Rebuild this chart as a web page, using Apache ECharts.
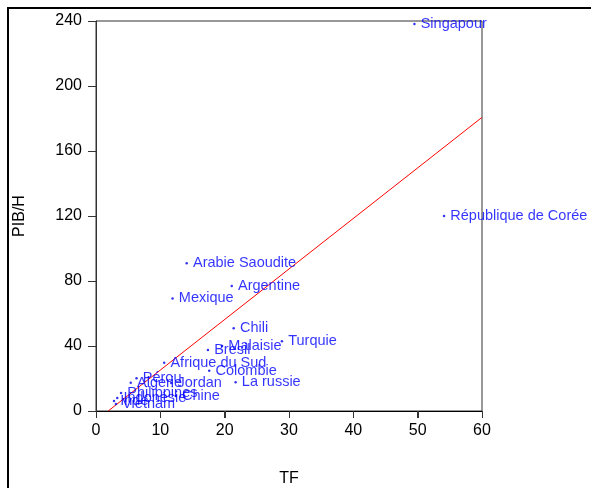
<!DOCTYPE html>
<html>
<head>
<meta charset="utf-8">
<script src="https://cdn.jsdelivr.net/npm/echarts@6/dist/echarts.min.js"></script>
<style>
  html, body { margin: 0; padding: 0; background: #fff; }
  #chart { width: 591px; height: 488px; }
</style>
</head>
<body>
<div id="chart"></div>
<script>
// Countries, openness (TF) and GDP per head (PIB/H)
const countries = [
  'Singapour', 'République de Corée', 'Arabie Saoudite', 'Argentine', 'Mexique',
  'Chili', 'Turquie', 'Malaisie', 'Bresil', 'Afrique du Sud', 'Colombie',
  'La russie', 'Pérou', 'Algerie', 'Jordan', 'Philippines', 'Chine',
  'Indonésie', 'Inde', 'Vietnam'
];
const tfValues = [
  49.5, 54.1, 14.1, 21.1, 11.9,
  21.4, 28.9, 19.6, 17.4, 10.6, 17.6,
  21.7, 6.3, 5.4, 11.7, 3.9, 12.4,
  3.3, 2.8, 3.1
];
const pibValues = [
  238.2, 120.0, 91.0, 76.9, 69.3,
  50.9, 43.0, 40.0, 37.5, 29.7, 24.8,
  17.7, 20.1, 17.4, 17.2, 11.1, 9.2,
  8.0, 6.2, 4.3
];
const xTicks = [0, 10, 20, 30, 40, 50, 60];
const yTicks = [0, 40, 80, 120, 160, 200, 240];

// Fitted line PIB/H = a + b * TF
const fitIntercept = -5.9;
const fitSlope = 3.11;
const fitRange = [1.9, 60];

const points = countries.map((c, i) => [tfValues[i], pibValues[i], c]);
const fitLine = fitRange.map(x => [x, fitIntercept + fitSlope * x]);

const chart = echarts.init(document.getElementById('chart'));
chart.setOption({
  animation: false,
  textStyle: { fontFamily: 'Liberation Sans, Arial, sans-serif' },
  grid: {
    left: 96, right: 109, top: 21, bottom: 77,
    containLabel: false, outerBoundsMode: 'none',
    show: true, borderColor: '#333', borderWidth: 1, backgroundColor: 'transparent'
  },
  xAxis: {
    type: 'value',
    min: xTicks[0], max: xTicks[xTicks.length - 1], interval: 10,
    name: 'TF', nameLocation: 'middle', nameGap: 60,
    nameTextStyle: { fontSize: 16, color: '#000' },
    axisLine: { show: true, onZero: false, lineStyle: { color: '#000', width: 1 } },
    axisTick: { show: true, inside: false, length: 7, lineStyle: { color: '#333', width: 1 } },
    axisLabel: { fontSize: 16, color: '#000', margin: 12 },
    splitLine: { show: false }
  },
  yAxis: {
    type: 'value',
    min: yTicks[0], max: yTicks[yTicks.length - 1], interval: 40,
    name: 'PIB/H', nameLocation: 'middle', nameGap: 68,
    nameTextStyle: { fontSize: 16, color: '#000' },
    axisLine: { show: true, onZero: false, lineStyle: { color: '#333', width: 1 } },
    axisTick: { show: true, inside: false, length: 8, lineStyle: { color: '#333', width: 1 } },
    axisLabel: { fontSize: 16, color: '#000', margin: 14 },
    splitLine: { show: false }
  },
  series: [
    {
      type: 'line',
      data: fitLine,
      symbol: 'none',
      lineStyle: { color: '#ff0000', width: 1 },
      z: 3
    },
    {
      type: 'scatter',
      data: points,
      symbol: 'circle',
      symbolSize: 2.5,
      itemStyle: { color: '#0000ee' },
      label: {
        show: true,
        position: 'right',
        distance: 5,
        formatter: p => p.data[2],
        color: '#0000ff',
        fontSize: 14.5,
        fontFamily: 'Liberation Sans, Arial, sans-serif'
      },
      z: 4
    }
  ]
});

// Page frame plus outward tick marks placed through the axis scales
const tickStyle = { stroke: '#333', lineWidth: 1 };
const x0 = chart.convertToPixel({ xAxisIndex: 0 }, xTicks[0]);
const y0 = chart.convertToPixel({ yAxisIndex: 0 }, yTicks[0]);
const extras = [{
  type: 'rect',
  shape: { x: 8, y: 8, width: 700, height: 600 },
  style: { fill: 'none', stroke: '#000', lineWidth: 2 },
  silent: true, z: 0
}];
xTicks.forEach(v => {
  const px = Math.round(chart.convertToPixel({ xAxisIndex: 0 }, v)) + 0.5;
  extras.push({
    type: 'line', silent: true, z: 5,
    shape: { x1: px, y1: y0, x2: px, y2: y0 + 7 },
    style: tickStyle
  });
});
yTicks.forEach(v => {
  const py = Math.round(chart.convertToPixel({ yAxisIndex: 0 }, v)) + 0.5;
  extras.push({
    type: 'line', silent: true, z: 5,
    shape: { x1: x0 - 8, y1: py, x2: x0, y2: py },
    style: tickStyle
  });
});
chart.setOption({ graphic: extras });
</script>
</body>
</html>
